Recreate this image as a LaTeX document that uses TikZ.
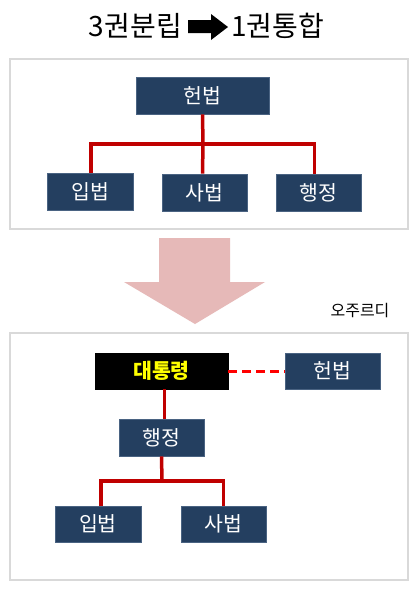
\documentclass[tikz,border=0pt]{standalone}
\usepackage{fontspec}
\setmainfont{Noto Sans CJK KR}
\newfontfamily\krfont{Noto Sans CJK KR}
\definecolor{boxblue}{HTML}{243F60}
\definecolor{boxedge}{HTML}{4A6382}
\definecolor{linkred}{HTML}{C00000}
\definecolor{dashred}{HTML}{FF0000}
\definecolor{panelgray}{HTML}{D9D9D9}
\definecolor{bigarrow}{HTML}{E6B9B8}
\definecolor{presyellow}{HTML}{FFFF00}
\tikzset{
  bluebox/.style={draw=boxedge, line width=0.6pt, fill=boxblue, text=white, inner sep=0pt,
    font=\krfont\fontsize{20.5}{20.5}\selectfont, minimum height=37pt},
  presbox/.style={draw=black, fill=black, text=presyellow, inner sep=0pt,
    font=\krfont\bfseries\fontsize{20.5}{20.5}\selectfont, minimum height=36pt},
  redlink/.style={draw=linkred, line width=3.5pt},
  panel/.style={draw=panelgray, line width=1.5pt},
}
\begin{document}
\begin{tikzpicture}[x=1pt,y=-1pt]
\useasboundingbox (0,0) rectangle (418,590);
\fill[white] (0,0) rectangle (418,590);
% title
\node[anchor=east, inner sep=0pt, font=\krfont\fontsize{28}{28}\selectfont] (t1) at (182,26) {3권분립};
\node[anchor=west, inner sep=0pt, font=\krfont\fontsize{28}{28}\selectfont] (t2) at (231,26) {1권통합};
\fill[black] (188,20) -- (211,20) -- (211,14) -- (228,27) -- (211,40) -- (211,33) -- (188,33) -- cycle;
% top panel
\draw[panel] (10,59) rectangle (408,229);
\node[bluebox, minimum width=133pt] (hb) at (202.5,95.5) {헌법};
\node[bluebox, minimum width=86pt] (ip) at (90,191.5) {입법};
\node[bluebox, minimum width=85pt] (sb) at (204.5,192.5) {사법};
\node[bluebox, minimum width=85pt] (hj) at (318.5,192.5) {행정};
\coordinate (j1) at (203,144);
\draw[redlink] (hb.south) -- (j1);
\draw[redlink] ([xshift=1pt]ip.north) |- (j1) -| ([xshift=-4pt]hj.north);
\draw[redlink] (j1) -- ([xshift=-2pt]sb.north);
% big arrow
\fill[bigarrow] (159,238) -- (230,238) -- (230,282) -- (265,282) -- (195,324) -- (124,282) -- (159,282) -- cycle;
\node[font=\krfont\fontsize{16}{16}\selectfont, inner sep=0pt] (src) at (360,311) {오주르디};
% bottom panel
\draw[panel] (10,333) rectangle (408,580);
\node[presbox, minimum width=133pt] (dt) at (161.5,371) {대통령};
\node[bluebox, minimum width=95pt, minimum height=36pt] (hb2) at (332.5,371) {헌법};
\node[bluebox, minimum width=85pt] (hj2) at (161.5,437.5) {행정};
\node[bluebox, minimum width=86pt, minimum height=36pt] (ip2) at (98,524) {입법};
\node[bluebox, minimum width=85pt, minimum height=36pt] (sb2) at (223.5,524) {사법};
\draw[dashred, line width=3pt, dash pattern=on 9pt off 5pt] (dt.east) -- (hb2.west);
\draw[redlink] ([xshift=3pt]dt.south) -- ([xshift=3pt]hj2.north);
\coordinate (j2) at (162,481);
\draw[redlink] (hj2.south) -- (j2);
\draw[redlink] ([xshift=3pt]ip2.north) |- (j2) -| (sb2.north);
\end{tikzpicture}
\end{document}
